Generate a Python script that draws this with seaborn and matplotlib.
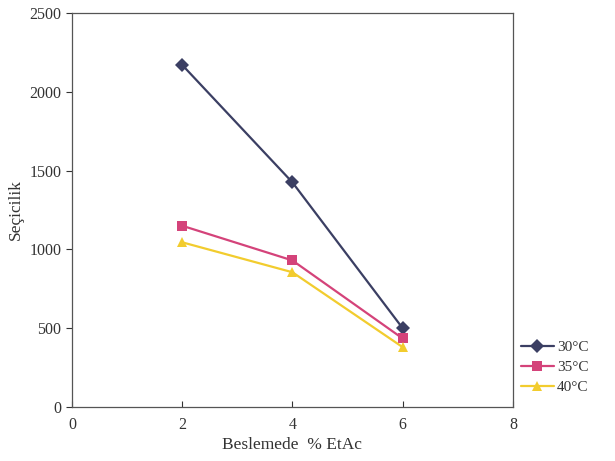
import matplotlib
matplotlib.use("Agg")
import matplotlib.pyplot as plt
import seaborn as sns
import pandas as pd

x_vals = [2, 4, 6]
sel_30 = [2170, 1425, 500]
sel_35 = [1150, 930, 435]
sel_40 = [1045, 855, 380]
series_labels = ["30°C", "35°C", "40°C"]
x_ticks = [0, 2, 4, 6, 8]
y_ticks = [0, 500, 1000, 1500, 2000, 2500]

df = pd.DataFrame({
    "x": x_vals * 3,
    "y": sel_30 + sel_35 + sel_40,
    "series": [series_labels[0]] * 3 + [series_labels[1]] * 3 + [series_labels[2]] * 3,
})

sns.set_style("ticks")
plt.rcParams["font.family"] = ["Liberation Serif", "DejaVu Serif"]

fig = plt.figure(figsize=(6.15, 4.61), dpi=100)
ax = fig.add_axes([0.117, 0.117, 0.717, 0.855])

palette = {"30°C": "#3b3f63", "35°C": "#d4437a", "40°C": "#f2cc2e"}
markers = {"30°C": "D", "35°C": "s", "40°C": "^"}
sns.lineplot(data=df, x="x", y="y", hue="series", style="series",
             palette=palette, markers=markers, dashes=False,
             markersize=7, linewidth=1.6, markeredgewidth=0, ax=ax)

ax.set_xlim(0, 8)
ax.set_ylim(0, 2500)
ax.set_xticks(x_ticks)
ax.set_yticks(y_ticks)
ax.tick_params(axis="both", labelsize=11.5, colors="#333333", length=4, width=0.8)
ax.tick_params(axis="x", direction="in", pad=7)
for s in ax.spines.values():
    s.set_visible(True)
    s.set_color("#555555")
    s.set_linewidth(0.9)

ax.set_xlabel("Beslemede  % EtAc", fontsize=12.5, color="#333333", labelpad=3)
ax.set_ylabel("Seçicilik", fontsize=12.5, color="#333333", labelpad=4)

leg = ax.legend(loc="lower left", bbox_to_anchor=(1.0, 0.014), frameon=False,
                fontsize=11, handlelength=2.2, labelspacing=0.4,
                borderaxespad=0.1, handletextpad=0.2)
for t in leg.get_texts():
    t.set_color("#333333")

fig.savefig("out.png", dpi=100, facecolor="white")
